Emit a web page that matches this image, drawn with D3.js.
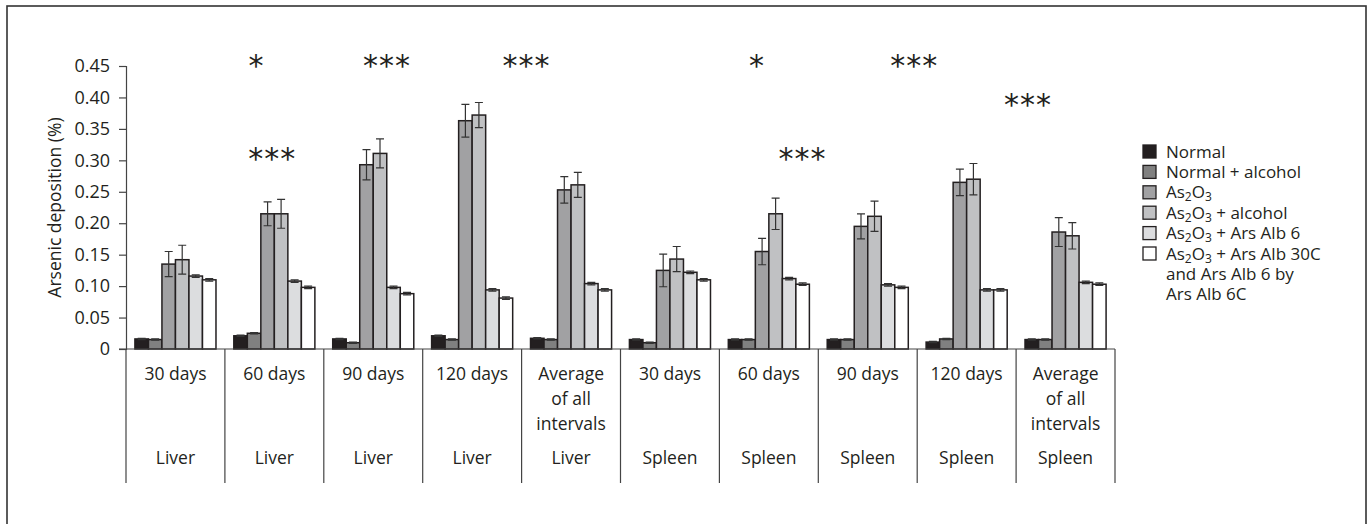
<!DOCTYPE html>
<html>
<head>
<meta charset="utf-8">
<script src="https://cdn.jsdelivr.net/npm/d3@7"></script>
<style>
  body { margin: 0; background: #fff; }
  svg { display: block; font-family: "Open Sans", sans-serif; }
</style>
</head>
<body>
<div id="chart"></div>
<script>
// categories: period (upper row) and organ (lower row)
const periods = ["30 days", "60 days", "90 days", "120 days", "Average\nof all\nintervals",
                 "30 days", "60 days", "90 days", "120 days", "Average\nof all\nintervals"]
const organs = ["Liver", "Liver", "Liver", "Liver", "Liver",
                "Spleen", "Spleen", "Spleen", "Spleen", "Spleen"]

const seriesKeys = ["normal", "normalAlc", "as2o3", "as2o3Alc", "alb6", "alb30"]

// mean arsenic deposition (%) per series
const normal    = [0.016, 0.021, 0.016, 0.021, 0.017, 0.015, 0.015, 0.015, 0.011, 0.015]
const normalAlc = [0.015, 0.025, 0.010, 0.015, 0.015, 0.010, 0.015, 0.015, 0.016, 0.015]
const as2o3     = [0.135, 0.215, 0.293, 0.363, 0.253, 0.125, 0.155, 0.195, 0.265, 0.186]
const as2o3Alc  = [0.142, 0.215, 0.311, 0.372, 0.261, 0.143, 0.215, 0.211, 0.270, 0.180]
const alb6      = [0.116, 0.108, 0.098, 0.094, 0.104, 0.122, 0.112, 0.102, 0.094, 0.106]
const alb30     = [0.110, 0.098, 0.088, 0.081, 0.094, 0.110, 0.103, 0.098, 0.094, 0.103]

// error (± SD)
const normalErr    = [0.001, 0.001, 0.001, 0.001, 0.001, 0.001, 0.001, 0.001, 0.001, 0.001]
const normalAlcErr = [0.001, 0.001, 0.001, 0.001, 0.001, 0.001, 0.001, 0.001, 0.001, 0.001]
const as2o3Err     = [0.020, 0.019, 0.024, 0.026, 0.021, 0.026, 0.021, 0.020, 0.021, 0.023]
const as2o3AlcErr  = [0.023, 0.023, 0.023, 0.020, 0.020, 0.020, 0.025, 0.024, 0.025, 0.021]
const alb6Err      = [0.002, 0.002, 0.002, 0.002, 0.002, 0.002, 0.002, 0.002, 0.002, 0.002]
const alb30Err     = [0.002, 0.002, 0.002, 0.002, 0.002, 0.002, 0.002, 0.002, 0.002, 0.002]

const yTicks = [0, 0.05, 0.10, 0.15, 0.20, 0.25, 0.30, 0.35, 0.40, 0.45]

// significance marks: position in category units, height in data units
const sigLabels = ["*", "***", "***", "***", "*", "***", "***", "***"]
const sigPos    = [1.32, 1.48, 2.64, 4.05, 6.38, 6.84, 7.97, 9.12]
const sigValue  = [0.456, 0.308, 0.456, 0.456, 0.456, 0.308, 0.456, 0.394]

const legendLabels = [
    [["Normal"]],
    [["Normal + alcohol"]],
    [["As", ""], ["2", "sub"], ["O", ""], ["3", "sub"]],
    [["As", ""], ["2", "sub"], ["O", ""], ["3", "sub"], [" + alcohol", ""]],
    [["As", ""], ["2", "sub"], ["O", ""], ["3", "sub"], [" + Ars Alb 6", ""]],
    [["As", ""], ["2", "sub"], ["O", ""], ["3", "sub"], [" + Ars Alb 30C", ""]]
]
const legendExtra = ["and Ars Alb 6 by", "Ars Alb 6C"]

const colors = ["#231f20", "#808080", "#a1a1a3", "#c0c1c3", "#dcdddf", "#ffffff"]

const width = 1371
const height = 524
const margin = { left: 126, right: 256, top: 66, bottom: 175 }
const ink = "#231f20"
const fs = 17.5
const legendFs = 17

const values = [normal, normalAlc, as2o3, as2o3Alc, alb6, alb30]
const errors = [normalErr, normalAlcErr, as2o3Err, as2o3AlcErr, alb6Err, alb30Err]

const svg = d3.select("#chart").append("svg")
    .attr("width", width)
    .attr("height", height)

// outer frame
svg.append("rect")
    .attr("x", 7).attr("y", 6)
    .attr("width", 1359).attr("height", 540)
    .attr("fill", "none")
    .attr("stroke", "#333")
    .attr("stroke-width", 1.6)

const x0 = d3.scaleBand()
    .domain(d3.range(periods.length))
    .range([margin.left, width - margin.right])

const xPos = d3.scaleLinear()
    .domain([0, periods.length])
    .range([margin.left, width - margin.right])

const x1 = d3.scaleBand()
    .domain(seriesKeys)
    .range([0, x0.bandwidth()])
    .paddingOuter(0.66)

const y = d3.scaleLinear()
    .domain([0, 0.45])
    .range([height - margin.bottom, margin.top])

// y axis
const yAxis = svg.append("g")
    .attr("transform", `translate(${margin.left},0)`)
    .call(d3.axisLeft(y)
        .tickValues(yTicks)
        .tickSize(7)
        .tickPadding(9)
        .tickFormat(d => d === 0 ? "0" : d3.format(".2f")(d)))
yAxis.select(".domain").attr("stroke", "#444").attr("stroke-width", 1.2)
yAxis.selectAll(".tick line").attr("stroke", "#444").attr("stroke-width", 1.2)
yAxis.selectAll(".tick text")
    .attr("font-size", 18)
    .attr("font-family", "Open Sans, sans-serif")
    .attr("fill", ink)

svg.append("text")
    .attr("transform", `translate(54,${(y(0) + y(0.45)) / 2}) rotate(-90)`)
    .attr("text-anchor", "middle")
    .attr("dominant-baseline", "central")
    .attr("font-size", fs)
    .attr("fill", ink)
    .text("Arsenic deposition (%)")

// bars
const groups = svg.append("g").selectAll("g")
    .data(d3.range(periods.length))
    .join("g")
    .attr("transform", i => `translate(${x0(i)},0)`)

const cells = groups.selectAll("g")
    .data(i => seriesKeys.map((k, s) => ({ key: k, s: s, v: values[s][i], e: errors[s][i] })))
    .join("g")

cells.append("rect")
    .attr("x", d => x1(d.key))
    .attr("y", d => y(d.v))
    .attr("width", x1.bandwidth())
    .attr("height", d => y(0) - y(d.v))
    .attr("fill", d => colors[d.s])
    .attr("stroke", ink)
    .attr("stroke-width", 1.5)

// error bars
const capW = 4
cells.append("path")
    .attr("d", d => {
        const cx = x1(d.key) + x1.bandwidth() / 2
        const top = y(d.v + d.e), bot = y(d.v - d.e)
        return `M${cx - capW},${top}H${cx + capW}M${cx},${top}V${bot}M${cx - capW},${bot}H${cx + capW}`
    })
    .attr("fill", "none")
    .attr("stroke", "#333")
    .attr("stroke-width", 1.2)

// baseline and category separators
svg.append("line")
    .attr("x1", margin.left - 7).attr("x2", width - margin.right)
    .attr("y1", y(0)).attr("y2", y(0))
    .attr("stroke", "#444").attr("stroke-width", 1.2)

svg.append("g").selectAll("line")
    .data(d3.range(periods.length + 1))
    .join("line")
    .attr("x1", i => xPos(i)).attr("x2", i => xPos(i))
    .attr("y1", y(0)).attr("y2", y(0) + 134)
    .attr("stroke", "#444").attr("stroke-width", 1.2)

// category labels
const catLabels = svg.append("g")
    .attr("font-size", fs)
    .attr("fill", ink)
    .attr("text-anchor", "middle")

catLabels.selectAll("text.period")
    .data(periods)
    .join("text")
    .attr("class", "period")
    .attr("x", (d, i) => x0(i) + x0.bandwidth() / 2)
    .attr("y", y(0) + 31)
    .selectAll("tspan")
    .data(d => d.split("\n"))
    .join("tspan")
    .attr("x", function () { return this.parentNode.getAttribute("x") })
    .attr("dy", (d, i) => i === 0 ? 0 : 25)
    .text(d => d)

catLabels.selectAll("text.organ")
    .data(organs)
    .join("text")
    .attr("class", "organ")
    .attr("x", (d, i) => x0(i) + x0.bandwidth() / 2)
    .attr("y", y(0) + 115)
    .text(d => d)

// significance asterisks
svg.append("g").selectAll("text")
    .data(sigLabels)
    .join("text")
    .attr("x", (d, i) => xPos(sigPos[i]))
    .attr("y", (d, i) => y(sigValue[i]) + 14)
    .attr("text-anchor", "middle")
    .attr("font-size", 30)
    .attr("letter-spacing", 1)
    .attr("fill", ink)
    .attr("font-family", "DejaVu Sans, sans-serif")
    .text(d => d)

// legend
const legend = svg.append("g")
    .attr("transform", "translate(1143,145)")

const rowH = 20.4
const items = legend.selectAll("g")
    .data(legendLabels)
    .join("g")
    .attr("transform", (d, i) => `translate(0,${i * rowH})`)

items.append("rect")
    .attr("width", 13).attr("height", 13)
    .attr("fill", (d, i) => colors[i])
    .attr("stroke", ink)
    .attr("stroke-width", 1.3)

items.append("text")
    .attr("x", 23)
    .attr("y", 12.5)
    .attr("font-size", legendFs)
    .attr("fill", ink)
    .selectAll("tspan")
    .data(d => d)
    .join("tspan")
    .attr("font-size", d => d[1] === "sub" ? 12 : legendFs)
    .attr("baseline-shift", d => d[1] === "sub" ? -3 : 0)
    .text(d => d[0])

legend.selectAll("text.extra")
    .data(legendExtra)
    .join("text")
    .attr("class", "extra")
    .attr("x", 23)
    .attr("y", (d, i) => (legendLabels.length + i) * rowH + 12.5)
    .attr("font-size", legendFs)
    .attr("fill", ink)
    .text(d => d)
</script>
</body>
</html>
